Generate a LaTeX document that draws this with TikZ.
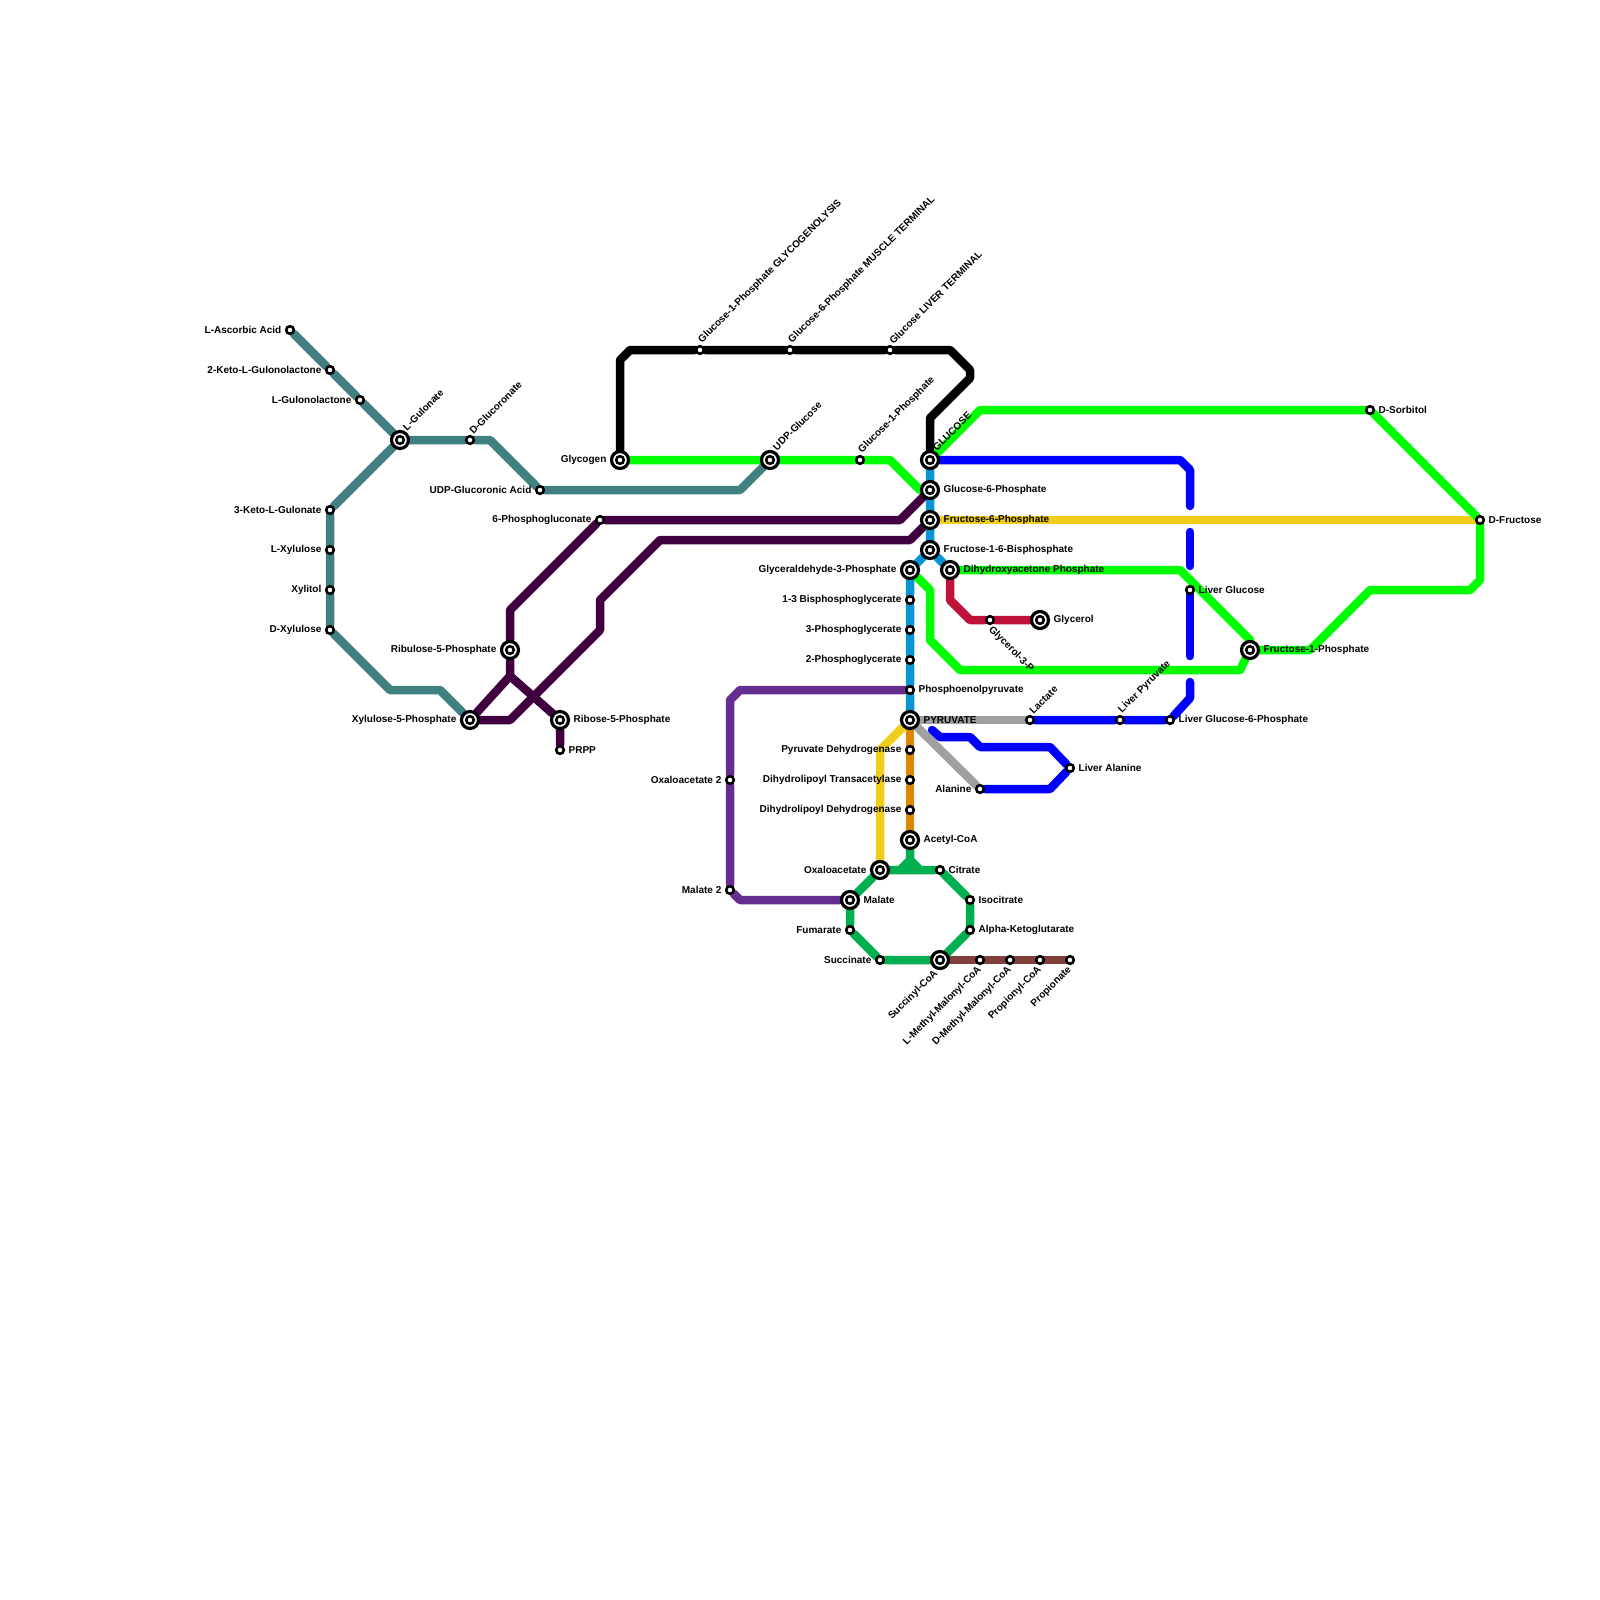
\documentclass[tikz,border=0pt]{standalone}
\usepackage{fontspec}
\setmainfont{Liberation Sans}
\usepackage{tikz}

\definecolor{tealline}{RGB}{65,128,128}
\definecolor{glyco}{RGB}{8,149,213}
\definecolor{liver}{RGB}{0,0,255}
\definecolor{fruct}{RGB}{0,255,0}
\definecolor{yell}{RGB}{240,205,25}
\definecolor{pdhc}{RGB}{224,135,0}
\definecolor{tca}{RGB}{0,176,80}
\definecolor{gluconeo}{RGB}{102,45,145}
\definecolor{pentose}{RGB}{64,0,64}
\definecolor{glycerol}{RGB}{190,18,58}
\definecolor{alanine}{RGB}{160,160,160}
\definecolor{propion}{RGB}{128,64,60}

\pgfdeclarelayer{bg}
\pgfsetlayers{bg,main}

\begin{document}
\begin{tikzpicture}[x=1pt,y=-1pt,every label/.style={font=\fontsize{10}{11}\selectfont\bfseries}]

	\tikzstyle route=[line width=8.5pt, line cap=round, line join=round];
	\tikzstyle station=[circle, draw=black, fill=white, line width=2.6pt, minimum size=7.6pt, inner sep=0pt];
	\tikzstyle hub=[circle, draw=black, fill=white, line width=3.2pt, minimum size=17pt, inner sep=0pt, label distance=2pt,
		path picture={\draw[line width=2.6pt] (path picture bounding box.center) circle (3.8pt);}];
	\tikzstyle rotup=[rotate=45, anchor=south west, inner sep=1pt];
	\tikzstyle rotdn=[rotate=45, anchor=north east, inner sep=1pt];
	\tikzstyle rotneg=[rotate=-45, anchor=north west, inner sep=1pt];

	\useasboundingbox (0,0) rectangle (1600,1600);

	% ascorbate and glucuronate
	\node[station, label=left:L-Ascorbic Acid] (asc) at (290,330) {};
	\node[station, label=left:2-Keto-L-Gulonolactone] (kgl) at (330,370) {};
	\node[station, label=left:L-Gulonolactone] (glac) at (360,400) {};
	\node[hub, label={[rotup]45:L-Gulonate}] (gul) at (400,440) {};
	\node[station, label={[rotup]45:D-Glucoronate}] (dglc) at (470,440) {};
	\node[station, label=left:UDP-Glucoronic Acid] (udpga) at (540,490) {};
		\foreach \y/\name/\txt in {510/kglt/3-Keto-L-Gulonate,550/lxyl/L-Xylulose,590/xylt/Xylitol,630/dxyl/D-Xylulose}
			\node[station, label=left:\txt] (\name) at (330,\y) {};
	\node[hub, label=left:Xylulose-5-Phosphate] (xu5p) at (470,720) {};

	% glycogen
	\node[hub, label=left:Glycogen] (glyc) at (620,460) {};
	\node[hub, label={[rotup]45:UDP-Glucose}] (udpglc) at (770,460) {};
	\node[station, label={[rotup]45:Glucose-1-Phosphate}] (g1p) at (860,460) {};
	\node[hub, label={[rotup]45:GLUCOSE}] (glc) at (930,460) {};
	\node[station, label={[rotup]45:Glucose-1-Phosphate GLYCOGENOLYSIS}] (g1pg) at (700,350) {};
	\node[station, label={[rotup]45:Glucose-6-Phosphate MUSCLE TERMINAL}] (g6pm) at (790,350) {};
	\node[station, label={[rotup]45:Glucose LIVER TERMINAL}] (glcl) at (890,350) {};

	% glycolysis
	\node[hub, label=right:Glucose-6-Phosphate] (g6p) at (930,490) {};
	\node[hub, label=right:Fructose-6-Phosphate] (f6p) at (930,520) {};
	\node[hub, label=right:Fructose-1-6-Bisphosphate] (fbp) at (930,550) {};
	\node[hub, label=left:Glyceraldehyde-3-Phosphate] (gap) at (910,570) {};
	\node[hub, label=right:Dihydroxyacetone Phosphate] (dhap) at (950,570) {};
		\foreach \y/\name/\txt in {600/bpg/1-3 Bisphosphoglycerate,630/pga3/3-Phosphoglycerate,660/pga2/2-Phosphoglycerate,
			750/pdh/Pyruvate Dehydrogenase,780/dlt/Dihydrolipoyl Transacetylase,810/dld/Dihydrolipoyl Dehydrogenase}
			\node[station, label=left:\txt] (\name) at (910,\y) {};
	\node[station, label=right:Phosphoenolpyruvate] (pep) at (910,690) {};
	\node[hub, label=right:PYRUVATE] (pyr) at (910,720) {};
	\node[hub, label=right:Acetyl-CoA] (acoa) at (910,840) {};

	% pentose phosphate
	\node[station, label=left:6-Phosphogluconate] (pg6) at (600,520) {};
	\node[hub, label=left:Ribulose-5-Phosphate] (ru5p) at (510,650) {};
	\node[hub, label=right:Ribose-5-Phosphate] (r5p) at (560,720) {};
	\node[station, label=right:PRPP] (prpp) at (560,750) {};

	% glycerol, fructose, liver
	\node[station, label={[rotneg]-45:Glycerol-3-P}] (g3pl) at (990,620) {};
	\node[hub, label=right:Glycerol] (glyl) at (1040,620) {};
	\node[station, label=right:D-Sorbitol] (dsorb) at (1370,410) {};
	\node[station, label=right:D-Fructose] (dfru) at (1480,520) {};
	\node[hub, label=right:Fructose-1-Phosphate] (f1p) at (1250,650) {};
	\node[station, label=right:Liver Glucose] (lglc) at (1190,590) {};
	\node[station, label=right:Liver Glucose-6-Phosphate] (lg6p) at (1170,720) {};
	\node[station, label={[rotup]45:Liver Pyruvate}] (lpyr) at (1120,720) {};
	\node[station, label={[rotup]45:Lactate}] (lac) at (1030,720) {};
	\node[station, label=right:Liver Alanine] (lala) at (1070,768) {};
	\node[station, label=left:Alanine] (ala) at (980,789) {};

	% krebs cycle
	\node[hub, label=left:Oxaloacetate] (oaa) at (880,870) {};
	\node[station, label=right:Citrate] (cit) at (940,870) {};
	\node[hub, label=right:Malate] (mal) at (850,900) {};
	\node[station, label=right:Isocitrate] (icit) at (970,900) {};
	\node[station, label=left:Fumarate] (fum) at (850,930) {};
	\node[station, label=right:Alpha-Ketoglutarate] (akg) at (970,930) {};
	\node[station, label=left:Succinate] (suc) at (880,960) {};
	\node[hub, label={[rotdn]225:Succinyl-CoA}] (scoa) at (940,960) {};
		\foreach \x/\name/\txt in {980/lmm/L-Methyl-Malonyl-CoA,1010/dmm/D-Methyl-Malonyl-CoA,1040/prc/Propionyl-CoA,1070/prn/Propionate}
			\node[station, label={[rotdn]225:\txt}] (\name) at (\x,960) {};
	\node[station, label=left:Oxaloacetate 2] (oaa2) at (730,780) {};
	\node[station, label=left:Malate 2] (mal2) at (730,890) {};

	\coordinate (ruj) at (510,676);
	\coordinate (tcaj) at (910,860);
	\coordinate (pyrl) at (932,730);
	\coordinate (lv1) at (1190,506);
	\coordinate (lv2) at (1190,532);
	\coordinate (lv3) at (1190,566);
	\coordinate (lv4) at (1190,656);
	\coordinate (lv5) at (1190,682);

	\begin{pgfonlayer}{bg}
	\draw[route,tealline] (asc) -- (kgl) -- (glac) -- (gul) -- (dglc) -- (490,440) -- (udpga) -- (740,490) -- (udpglc);
	\draw[route,tealline] (gul) -- (kglt) -- (lxyl) -- (xylt) -- (dxyl) -- (390,690) -- (440,690) -- (xu5p);

	\draw[route,black] (glyc) -- (620,360) -- (630,350) -- (g1pg) -- (g6pm) -- (glcl) -- (950,350) -- (970,370) -- (970,378) -- (930,418) -- (glc);
	\draw[route,fruct] (glyc) -- (udpglc) -- (g1p) -- (890,460) -- (920,490) -- (g6p);

	\draw[route,yell] (f6p) -- (dfru);
	\draw[route,fruct] (glc) -- (980,410) -- (dsorb) -- (dfru) -- (1480,580) -- (1470,590) -- (1370,590) -- (1310,650) -- (f1p);
	\draw[route,fruct] (dhap) -- (1180,570) -- (1250,640) -- (f1p);
	\draw[route,fruct] (gap) -- (930,590) -- (930,640) -- (960,670) -- (1240,670) -- (f1p);

	\draw[route,glyco] (glc) -- (g6p) -- (f6p) -- (fbp) -- (gap) -- (bpg) -- (pga3) -- (pga2) -- (pep) -- (pyr);
	\draw[route,glyco] (fbp) -- (dhap);

	\draw[route,pentose] (g6p) -- (900,520) -- (pg6) -- (510,610) -- (ru5p) -- (ruj) -- (xu5p);
	\draw[route,pentose] (ruj) -- (r5p) -- (prpp);
	\draw[route,pentose] (f6p) -- (910,540) -- (660,540) -- (600,600) -- (600,630) -- (510,720) -- (xu5p);

	\draw[route,glycerol] (dhap) -- (950,600) -- (970,620) -- (g3pl) -- (glyl);

	\draw[route,liver] (glc) -- (1180,460) -- (1190,470) -- (lv1);
	\draw[route,liver] (lv2) -- (lv3);
	\draw[route,liver] (lglc) -- (lv4);
	\draw[route,liver] (lv5) -- (1190,698) -- (lg6p) -- (lpyr) -- (lac);
	\draw[route,liver] (pyrl) -- (940,737) -- (970,737) -- (980,747) -- (1050,747) -- (lala) -- (1050,789) -- (ala);

	\draw[route,alanine] (pyr) -- (lac);
	\draw[route,alanine] (pyr) -- (ala);
	\draw[route,pdhc] (pyr) -- (pdh) -- (dlt) -- (dld) -- (acoa);
	\draw[route,yell] (pyr) -- (880,750) -- (oaa);

	\draw[route,tca] (acoa) -- (tcaj) -- (900,870);
	\draw[route,tca] (tcaj) -- (920,870);
	\draw[route,tca] (oaa) -- (cit) -- (icit) -- (akg) -- (scoa) -- (suc) -- (fum) -- (mal) -- (oaa);
	\draw[route,propion] (scoa) -- (lmm) -- (dmm) -- (prc) -- (prn);
	\draw[route,gluconeo] (pep) -- (740,690) -- (730,700) -- (oaa2) -- (mal2) -- (740,900) -- (mal);
	\end{pgfonlayer}

\end{tikzpicture}
\end{document}
